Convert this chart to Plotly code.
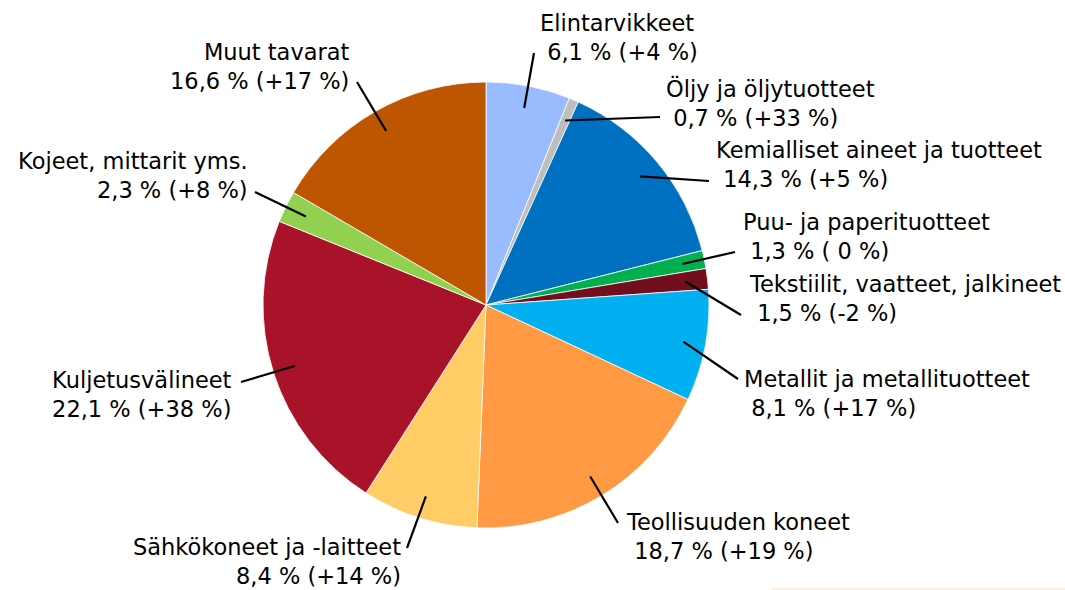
import numpy as np
import plotly.graph_objects as go

# ---- data -------------------------------------------------------------
categories = [
    "Elintarvikkeet",
    "Öljy ja öljytuotteet",
    "Kemialliset aineet ja tuotteet",
    "Puu- ja paperituotteet",
    "Tekstiilit, vaatteet, jalkineet",
    "Metallit ja metallituotteet",
    "Teollisuuden koneet",
    "Sähkökoneet ja -laitteet",
    "Kuljetusvälineet",
    "Kojeet, mittarit yms.",
    "Muut tavarat",
]
shares = [6.1, 0.7, 14.3, 1.3, 1.5, 8.1, 18.7, 8.4, 22.1, 2.3, 16.6]
changes = ["+4", "+33", "+5", " 0", "-2", "+17", "+19", "+14", "+38", "+8", "+17"]

# ---- styling ----------------------------------------------------------
colors = [
    "#99BBFF", "#BEBEBE", "#0070C0", "#00B050", "#720F1E", "#00B0F0",
    "#FF9944", "#FFCC66", "#A8132A", "#92D050", "#BE5500",
]

W, H = 1065, 590
# pie placement in pixels (centre and radius)
CX, CY, R = 486, 305, 223

# label placement: side, text x (px), vertical middle (px), leader end (px)
label_side = ["l", "l", "l", "l", "l", "l", "l", "r", "r", "r", "r"]
label_x = [539, 665, 715, 742, 748, 743, 625, 402, 233, 249, 351]
label_ymid = [37, 103, 165, 236, 298, 393, 536, 561, 394, 175, 66]
leader_end = [
    (534, 53), (660, 117), (709, 181), (735, 252), (741, 315), (738, 379),
    (618, 523), (407, 548), (241, 382), (255, 192), (357, 82),
]

FONT = dict(family="DejaVu Sans", size=22.5, color="black")
NBSP = "\u00a0"


def px(x):
    return x / W


def py(y):
    return 1 - y / H


fig = go.Figure(
    go.Pie(
        labels=categories,
        values=shares,
        sort=False,
        direction="clockwise",
        rotation=0,
        textinfo="none",
        hoverinfo="label+percent",
        marker=dict(colors=colors, line=dict(color="white", width=0.8)),
        domain=dict(x=[px(CX - R), px(CX + R)], y=[py(CY + R), py(CY - R)]),
        showlegend=False,
    )
)

# slice mid-angles (clockwise from 12 o'clock) -> leader start inside slice
vals = np.array(shares, dtype=float)
cum = np.cumsum(vals) / vals.sum()
mid = cum - vals / vals.sum() / 2
ang = mid * 2 * np.pi

shapes = []
annotations = []
for i, cat in enumerate(categories):
    tx = CX + 0.9 * R * np.sin(ang[i])
    ty = CY - 0.9 * R * np.cos(ang[i])
    ex, ey = leader_end[i]
    shapes.append(dict(
        type="line", xref="paper", yref="paper",
        x0=px(tx), y0=py(ty), x1=px(ex), y1=py(ey),
        line=dict(color="black", width=2.2),
    ))
    value_txt = f"{shares[i]:.1f}".replace(".", ",") + f" % ({changes[i]} %)"
    if label_side[i] == "l":
        text = f"{cat}<br>{NBSP}{value_txt}"
        xa, al = "left", "left"
    else:
        text = f"{cat}<br>{value_txt}"
        xa, al = "right", "right"
    annotations.append(dict(
        text=text, xref="paper", yref="paper",
        x=px(label_x[i]), y=py(label_ymid[i]),
        xanchor=xa, yanchor="middle", align=al,
        showarrow=False, font=FONT, borderpad=0,
    ))

# faint rule along the lower right edge
shapes.append(dict(
    type="line", xref="paper", yref="paper",
    x0=px(772), y0=py(589), x1=1, y1=py(589),
    line=dict(color="#F6DFC8", width=1),
))

fig.update_layout(
    width=W, height=H,
    margin=dict(l=0, r=0, t=0, b=0),
    paper_bgcolor="white", plot_bgcolor="white",
    shapes=shapes, annotations=annotations,
    font=FONT,
)

fig.write_html("out.html")
